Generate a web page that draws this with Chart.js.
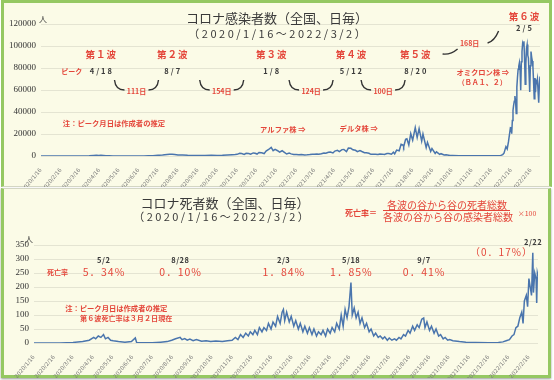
<!DOCTYPE html>
<html>
<head>
<meta charset="utf-8">
<script src="https://cdn.jsdelivr.net/npm/chart.js@4/dist/chart.umd.min.js"></script>
<style>
  html, body { margin: 0; padding: 0; background: #ffffff; }
  body { width: 554px; height: 380px; position: relative; overflow: hidden; }
  .panel { position: absolute; box-sizing: border-box; background: #fbfbe7; }
  #p1 { left: 1px; top: 0; width: 551px; height: 187px; border: 3px solid #95c862; border-bottom: 1px solid #d3d6c3; }
  #p2 { left: 1px; top: 188px; width: 550px; height: 190px; border: 3px solid #95c862; border-top: 1px solid #d3d6c3; box-shadow: 0 1px 2px #999; }
  canvas { position: absolute; left: 0; }
  #cases { top: 0; }
  #deaths { top: 188px; }
</style>
</head>
<body>
<div class="panel" id="p1"></div>
<div class="panel" id="p2"></div>
<canvas id="cases" width="554" height="187" style="width:554px;height:187px"></canvas>
<canvas id="deaths" width="554" height="190" style="width:554px;height:190px"></canvas>
<script>
// x values are days since 2020/1/16
const monthLabels = [
  '2020/1/16','2020/2/16','2020/3/16','2020/4/16','2020/5/16','2020/6/16','2020/7/16','2020/8/16',
  '2020/9/16','2020/10/16','2020/11/16','2020/12/16','2021/1/16','2021/2/16','2021/3/16','2021/4/16',
  '2021/5/16','2021/6/16','2021/7/16','2021/8/16','2021/9/16','2021/10/16','2021/11/16','2021/12/16',
  '2022/1/16','2022/2/16'
];
const lastDay = 776; // 2022/3/2

const caseDays = [
  0,20,40,55,65,75,82,86,90,93,
  97,101,106,112,121,135,150,160,167,174,
  182,189,196,200,204,208,213,220,228,236,
  244,255,265,274,282,290,297,302,305,309,
  312,316,319,323,326,330,333,336,339,343,
  347,350,354,358,361,364,368,371,375,378,
  382,386,389,393,397,401,405,410,414,418,
  422,425,429,432,436,440,443,447,450,454,
  457,461,464,468,471,475,478,482,485,489,
  492,496,499,503,506,510,513,517,520,524,
  527,531,534,538,541,545,548,550,553,557,
  560,563,564,567,569,572,575,578,582,585,
  588,592,594,599,601,606,608,613,615,620,
  622,627,630,636,640,650,660,670,680,690,
  700,710,715,718,720,723,725,727,730,731,
  732,733,734,735,736,737,738,739,740,741,
  742,743,744,745,746,747,748,749,750,751,
  752,753,754,755,756,757,758,759,760,761,
  762,763,764,765,766,767,768,769,770,771,
  772,773,774,775,776
];
const caseCounts = [
  0,5,10,30,40,200,550,700,500,580,
  400,250,200,100,50,40,50,60,130,250,
  600,900,1300,1500,1600,1300,900,1000,700,550,
  500,500,600,550,650,900,1200,1300,1500,2400,
  2200,1400,2500,2200,1700,2800,2500,1800,3200,2900,
  2200,4500,5900,7900,4900,6000,4800,3500,4800,3500,
  1800,2600,1900,1300,1300,1100,1300,1000,1100,1300,
  1600,1500,1900,1500,2000,2800,2500,3400,3600,2800,
  4500,5200,4000,5800,5900,4000,7200,7000,5700,5200,
  4000,5000,4100,3000,3000,2500,1500,1700,1600,1300,
  1800,1700,1400,2200,2200,1600,3400,1900,5400,4700,
  10700,10000,8400,15200,15700,10000,20300,14400,25900,16800,
  24900,13600,20000,7600,12400,4200,6800,2300,3800,1500,
  2100,900,1100,450,400,300,200,150,140,180,
  160,300,550,1300,2600,8500,6400,13000,25700,25600,
  20200,32200,41400,46200,49800,54500,50100,38600,62600,71600,
  78900,81800,84900,78700,59800,85600,94900,102300,100300,104400,
  87900,65300,83800,97800,101300,91600,88900,74400,58100,82000,
  94900,89900,86400,80900,67200,52100,70800,57900,68100,66800,
  70100,58900,48500,65400,72300
];

const deathDays = [
  0,40,60,75,85,92,95,99,103,107,
  110,114,118,122,130,140,150,156,158,170,
  182,195,205,212,218,225,228,232,236,240,
  245,250,258,265,272,280,290,298,305,310,
  314,318,322,326,330,333,337,340,344,347,
  351,354,358,361,365,368,372,375,379,382,
  384,386,389,393,396,400,403,407,410,414,
  417,421,424,428,431,435,438,442,445,449,
  452,456,459,463,466,470,473,476,479,482,
  485,488,490,493,496,499,502,505,509,512,
  516,519,523,526,530,533,537,540,544,547,
  551,555,558,562,565,569,572,576,579,583,
  586,590,593,597,600,602,605,609,612,616,
  619,623,626,630,633,637,640,645,655,665,
  680,700,715,722,727,732,736,739,742,745,
  748,751,753,755,758,760,762,764,766,768,
  769,771,773,774,775,776
];
const deathCounts = [
  0,0,2,5,10,20,15,25,20,30,
  15,20,10,8,5,3,5,18,2,1,
  1,3,5,10,15,20,12,16,10,14,
  8,12,6,8,5,7,5,8,10,20,
  12,30,20,35,25,40,30,45,30,55,
  40,55,45,70,50,75,60,95,70,110,
  120,80,110,75,95,60,80,50,70,40,
  60,35,55,30,50,25,40,30,45,25,
  50,35,55,40,70,50,100,60,120,90,
  130,216,100,125,90,110,70,90,55,70,
  40,50,25,35,20,25,15,22,10,18,
  10,15,10,20,15,30,25,45,35,60,
  45,65,55,85,89,55,75,45,60,35,
  50,25,30,15,20,10,12,8,5,3,
  2,1,2,4,8,12,25,30,55,60,
  90,110,70,150,170,130,230,200,170,322,
  180,250,230,143,250,239
];

// wave peaks
const waveNames = ['第１波','第２波','第３波','第４波','第５波','第６波'];
const casePeakDays = [93, 204, 358, 482, 582, 751];
const casePeakLabels = ['4/18','8/7','1/8','5/12','8/20','2/5'];
const gapLabels = ['111日','154日','124日','100日','168日'];
const deathPeakDays = [107, 225, 384, 488, 600, 768];
const deathPeakLabels = ['5/2','8/28','2/3','5/18','9/7','2/22'];
const deathRates = ['5．34%','0．10%','1．84%','1．85%','0．41%','（0．17%）'];

const RED = '#e4463a';
const DARK = '#3a3a3a';
const LINE = '#4a75ad';
const JP = '"Noto Sans CJK JP", sans-serif';

const base = Date.UTC(2020, 0, 16);
const tickDays = monthLabels.map(s => {
  const [y, m, d] = s.split('/').map(Number);
  return Math.round((Date.UTC(y, m - 1, d) - base) / 86400000);
});

function put(ctx, s, x, y, font, color, opts = {}) {
  ctx.save();
  ctx.font = font;
  ctx.fillStyle = color;
  const align = opts.align || 'center';
  ctx.textAlign = align;
  ctx.textBaseline = 'middle';
  let sp = opts.spacing || 0;
  if (opts.width) sp = (opts.width - ctx.measureText(s).width) / s.length;
  ctx.letterSpacing = sp + 'px';
  if (align === 'center') x += sp / 2;
  ctx.fillText(s, x, y);
  ctx.restore();
}

function bracket(ctx, cx, cy) {
  ctx.save();
  ctx.strokeStyle = '#333';
  ctx.lineWidth = 1.4;
  ctx.beginPath();
  ctx.moveTo(cx - 22, cy - 10);
  ctx.quadraticCurveTo(cx - 21, cy, cx - 12, cy);
  ctx.moveTo(cx + 12, cy);
  ctx.quadraticCurveTo(cx + 21, cy, cx + 22, cy - 10);
  ctx.stroke();
  ctx.restore();
}

function xScale(height) {
  return {
    type: 'linear', min: 0, max: lastDay,
    grid: { display: false }, border: { display: false },
    afterBuildTicks: s => { s.ticks = tickDays.map(v => ({ value: v })); },
    afterFit: s => { s.height = height; },
    ticks: {
      autoSkip: false, minRotation: 50, maxRotation: 50, padding: 3,
      font: { family: 'DejaVu Sans', size: 5.5 }, color: '#7a7a7a',
      callback: (v, i) => monthLabels[i]
    }
  };
}

function yScale(max, step, width) {
  return {
    min: 0, max: max,
    afterFit: s => { s.width = width; },
    border: { display: false },
    grid: { color: '#e4e4d2', drawTicks: false },
    ticks: {
      stepSize: step, padding: 5,
      font: { family: 'Liberation Serif', size: 9 }, color: '#333',
      callback: v => String(v)
    }
  };
}

function series(days, counts) {
  return [{
    data: days.map((d, i) => ({ x: d, y: counts[i] })),
    borderColor: LINE, borderWidth: 1.5, pointRadius: 0, tension: 0, fill: false
  }];
}

const caseNotes = {
  id: 'caseNotes',
  afterDraw(chart) {
    const ctx = chart.ctx, a = chart.chartArea;
    const X = d => chart.scales.x.getPixelForValue(d);
    const Y = v => chart.scales.y.getPixelForValue(v);

    put(ctx, 'コロナ感染者数（全国、日毎）', 277, 18, `13px ${JP}`, DARK);
    put(ctx, '（2020/1/16～2022/3/2）', 277, 34, `11px ${JP}`, DARK, { width: 180 });
    put(ctx, '人', a.left + 2, a.top - 5, `8px ${JP}`, DARK);

    waveNames.forEach((w, i) => {
      const last = i === waveNames.length - 1;
      put(ctx, w, X(casePeakDays[i]), Y(last ? 127000 : 92000), `bold 9.5px ${JP}`, RED, { spacing: 1 });
      put(ctx, casePeakLabels[i], X(casePeakDays[i]), Y(last ? 116400 : 77300), `bold 7.5px ${JP}`, DARK, { spacing: 2 });
    });
    put(ctx, 'ピーク', X(48), Y(77300), `bold 7px ${JP}`, RED);

    gapLabels.forEach((g, i) => {
      const mid = (casePeakDays[i] + casePeakDays[i + 1]) / 2;
      if (i < gapLabels.length - 1) {
        bracket(ctx, X(mid), Y(60000));
        put(ctx, g, X(mid), Y(60000) + 1, `bold 7px ${JP}`, RED);
      } else {
        const cx = X(mid), cy = Y(102700);
        ctx.save();
        ctx.strokeStyle = '#333';
        ctx.lineWidth = 1.4;
        ctx.beginPath();
        ctx.moveTo(cx - 27, cy + 11);
        ctx.quadraticCurveTo(cx - 19, cy + 12, cx - 12, cy + 6);
        ctx.moveTo(cx + 18, cy);
        ctx.quadraticCurveTo(cx + 25, cy - 2, cx + 29, cy - 12);
        ctx.stroke();
        ctx.restore();
        put(ctx, g, cx, cy, `bold 7px ${JP}`, RED);
      }
    });

    put(ctx, '注：ピーク月日は作成者の推定', X(34), Y(30000), `bold 7.3px ${JP}`, RED, { align: 'left' });
    put(ctx, 'アルファ株 ⇒', X(376), Y(24500), `bold 7.3px ${JP}`, RED);
    put(ctx, 'デルタ株 ⇒', X(494), Y(25500), `bold 7.3px ${JP}`, RED);
    put(ctx, 'オミクロン株 ⇒', X(687), Y(76400), `bold 7.3px ${JP}`, RED);
    put(ctx, '（ＢＡ１、２）', X(686), Y(67300), `bold 7px ${JP}`, RED);
  }
};

const deathNotes = {
  id: 'deathNotes',
  afterDraw(chart) {
    const ctx = chart.ctx, a = chart.chartArea;
    const X = d => chart.scales.x.getPixelForValue(d);
    const Y = v => chart.scales.y.getPixelForValue(v);

    put(ctx, 'コロナ死者数（全国、日毎）', 225, 15, `13px ${JP}`, DARK);
    put(ctx, '（2020/1/16～2022/3/2）', 221, 29, `11px ${JP}`, DARK, { width: 178 });
    put(ctx, '人', a.left - 5, a.top - 6, `8px ${JP}`, DARK);

    // formula
    put(ctx, '死亡率＝', 361, 25, `bold 8px ${JP}`, RED);
    put(ctx, '各波の谷から谷の死者総数', 447, 17, `10px ${JP}`, RED);
    put(ctx, '各波の谷から谷の感染者総数', 448, 29, `10px ${JP}`, RED);
    ctx.save();
    ctx.strokeStyle = RED; ctx.lineWidth = 1;
    ctx.beginPath(); ctx.moveTo(383, 22.5); ctx.lineTo(510, 22.5); ctx.stroke();
    ctx.restore();
    put(ctx, '×100', 527, 25, `7px ${JP}`, RED);

    deathPeakDays.forEach((d, i) => {
      const last = i === deathPeakDays.length - 1;
      put(ctx, deathPeakLabels[i], X(d), Y(last ? 361 : 296), `bold 7.5px ${JP}`, DARK, { spacing: 0.5 });
      if (last) {
        put(ctx, deathRates[i], X(719), Y(325), `10px ${JP}`, RED, { spacing: 1 });
      } else {
        put(ctx, deathRates[i], X(d), Y(254), `10.5px ${JP}`, RED, { spacing: 1 });
      }
    });
    put(ctx, '死亡率', X(36), Y(254), `bold 7px ${JP}`, RED);

    put(ctx, '注：ピーク月日は作成者の推定', X(48), Y(125), `bold 7.3px ${JP}`, RED, { align: 'left' });
    put(ctx, '第６波死亡率は３月２日現在', X(71), Y(89), `bold 7.1px ${JP}`, RED, { align: 'left' });
  }
};

new Chart(document.getElementById('cases'), {
  type: 'line',
  data: { datasets: series(caseDays, caseCounts) },
  options: {
    responsive: false, animation: false,
    layout: { padding: { top: 24, right: 14, left: 0, bottom: 0 } },
    plugins: { legend: { display: false }, tooltip: { enabled: false } },
    scales: { x: xScale(31), y: yScale(120000, 20000, 41) }
  },
  plugins: [caseNotes]
});

new Chart(document.getElementById('deaths'), {
  type: 'line',
  data: { datasets: series(deathDays, deathCounts) },
  options: {
    responsive: false, animation: false,
    layout: { padding: { top: 57, right: 16, left: 0, bottom: 0 } },
    plugins: { legend: { display: false }, tooltip: { enabled: false } },
    scales: { x: xScale(35), y: yScale(350, 50, 34) }
  },
  plugins: [deathNotes]
});
</script>
</body>
</html>
